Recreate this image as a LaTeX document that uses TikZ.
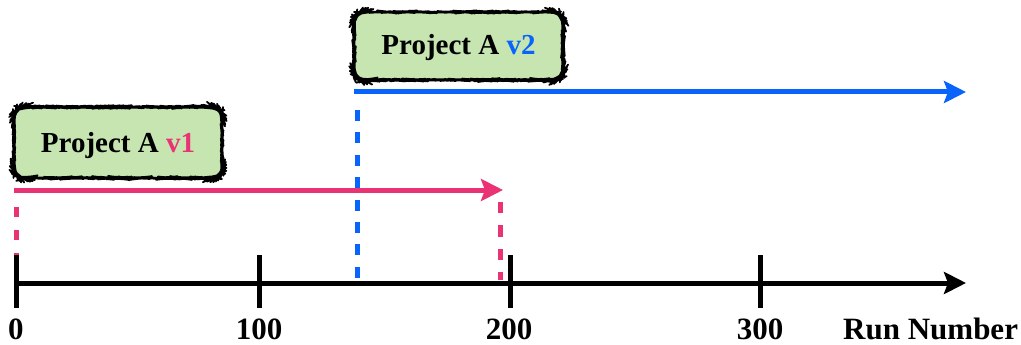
\documentclass[tikz,border=0pt]{standalone}
\usepackage{fontspec}
\setmainfont{Liberation Serif}
\usetikzlibrary{arrows.meta,decorations.pathmorphing}
\definecolor{vone}{RGB}{233,51,117}
\definecolor{vtwo}{RGB}{8,100,250}
\definecolor{boxfill}{RGB}{198,229,177}
\begin{document}
\begin{tikzpicture}[x=1pt,y=-1pt,
  tip/.style={-{Stealth[length=22pt,width=22pt,inset=4pt]}},
  axisline/.style={line width=5pt,black},
  tickmark/.style={line width=5pt,black},
  run/.style={line width=5pt},
  guide/.style={line width=5pt},
  vbox/.style={fill=boxfill,rounded corners=12pt,inner sep=0pt,
    postaction={draw=black,line width=1.8pt,line join=round,decorate,
      decoration={random steps,segment length=2pt,amplitude=0.2pt}}},
  boxtext/.style={font=\fontsize{29}{29}\selectfont\bfseries,anchor=base,inner sep=0pt},
  axlabel/.style={font=\fontsize{31}{31}\selectfont\bfseries,anchor=base,inner sep=0pt}
]
\useasboundingbox (0,0) rectangle (1021,345);

% time axis
\coordinate (axstart) at (14,283);
\coordinate (axend) at (966,283);
\draw[axisline,tip] (axstart) -- (axend);
\draw[tickmark] (16,255) -- (16,308);
\draw[tickmark] (259,255) -- (259,308);
\draw[tickmark] (510,255) -- (510,308);
\draw[tickmark] (760,255) -- (760,308);
\node[axlabel] (l0) at (16,339.5) {0};
\node[axlabel] (l100) at (259,339.5) {100};
\node[axlabel] (l200) at (509,339.5) {200};
\node[axlabel] (l300) at (760,339.5) {300};
\node[axlabel,anchor=base west] (lrun) at (843,339.5) {Run Number};

% version 1 span
\coordinate (p0) at (13.5,190);
\coordinate (p1) at (503,190);
\coordinate (p0top) at (16,207);
\coordinate (p0bot) at (16,255);
\coordinate (p1top) at (500,201.7);
\coordinate (p1bot) at (500,280);
\draw[run,vone,tip] (p0) -- (p1);
\draw[guide,vone,dash pattern=on 10pt off 13pt] (p0top) -- (p0bot);
\draw[guide,vone,dash pattern=on 11.7pt off 11.7pt] (p1top) -- (p1bot);

% version 2 span
\coordinate (q0) at (354,92);
\coordinate (q1) at (966,92);
\coordinate (q0top) at (357,110);
\coordinate (q0bot) at (357,280);
\draw[run,vtwo,tip] (q0) -- (q1);
\draw[guide,vtwo,dash pattern=on 11pt off 11.4pt] (q0top) -- (q0bot);

% version labels
\node[vbox,minimum width=208pt,minimum height=71pt] (b1) at (118,142.5) {};
\node[boxtext] (t1) at ([yshift=-10.5pt]b1.center) {Project A \textcolor{vone}{v1}};
\node[vbox,minimum width=209pt,minimum height=68pt] (b2) at (458.5,46) {};
\node[boxtext] (t2) at ([yshift=-9pt]b2.center) {Project A \textcolor{vtwo}{v2}};
\end{tikzpicture}
\end{document}
